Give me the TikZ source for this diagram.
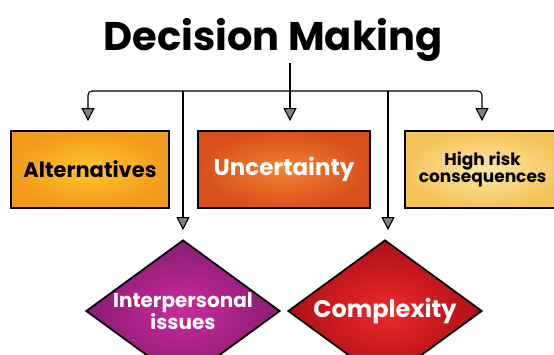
\documentclass[tikz,border=0pt]{standalone}
\usepackage{fontspec}
\setmainfont{Poppins}
\usepackage{tikz}
\usetikzlibrary{shapes.geometric, arrows.meta}

\definecolor{altIn}{HTML}{FFC62A}
\definecolor{altOut}{HTML}{F29A1C}
\definecolor{uncIn}{HTML}{F2822E}
\definecolor{uncOut}{HTML}{D8501C}
\definecolor{riskIn}{HTML}{FCE6A4}
\definecolor{riskOut}{HTML}{F4C45A}
\definecolor{ipIn}{HTML}{C92A9C}
\definecolor{ipOut}{HTML}{8A1C74}
\definecolor{cxIn}{HTML}{EC2A2A}
\definecolor{cxOut}{HTML}{AE0E16}

\tikzset{
    card/.style={draw=black, line width=1.8pt, minimum height=77pt, inner sep=2pt,
        shading=radial, align=center, font=\bfseries\fontsize{21}{21}\selectfont},
    gem/.style={diamond, draw=black, line width=1.8pt, minimum width=194pt, minimum height=142pt,
        aspect=1.37, inner sep=0pt, shading=radial, align=center, text=white,
        font=\bfseries\fontsize{20}{19}\selectfont},
    link/.style={line width=1.1pt, rounded corners=4pt,
        -{Triangle[width=13pt, length=13pt, open, fill=gray]}, shorten >=9pt}
}

\begin{document}
\begin{tikzpicture}[x=1pt, y=-1pt]
    \useasboundingbox (0,0) rectangle (554,354);
    % Title
    \node[font=\bfseries\fontsize{40}{40}\selectfont] (title) at (273,40) {Decision Making};
    % Reference coordinates
    \coordinate (stem) at (290,63);
    \coordinate (hub) at (290,91);
    \coordinate (forkA) at (183,91);
    \coordinate (forkB) at (388,91);
    % Boxes
    \node[card, minimum width=158pt, inner color=altIn, outer color=altOut] (alt) at (90,169.5) {Alternatives};
    \node[card, minimum width=172pt, inner color=uncIn, outer color=uncOut, text=white, font=\bfseries\fontsize{23}{23}\selectfont] (unc) at (284,169.5) {Uncertainty};
    \node[card, minimum width=160pt, inner color=riskIn, outer color=riskOut, font=\bfseries\fontsize{17}{17}\selectfont] (risk) at (485,169.5) {};
    \node[font=\bfseries\fontsize{17}{17}\selectfont, align=center, anchor=east] (risktxt) at (550,169.5) {High risk\\consequences};
    % Diamonds
    \node[gem, inner color=ipIn, outer color=ipOut] (inter) at (183,311) {Interpersonal\\issues};
    \node[gem, inner color=cxIn, outer color=cxOut, font=\bfseries\fontsize{24}{24}\selectfont] (cplx) at (385,311) {Complexity};
    % Lines
    \draw[line width=1.1pt] (stem) -- (hub);
    \draw[link] (hub) -| ([xshift=-2pt]alt.north);
    \draw[link] (hub) -| ([xshift=-3pt]risk.north);
    \draw[link] (hub) -- (hub |- unc.north);
    \draw[link] (forkA) -- (inter.north);
    \draw[link] (forkB) -- (forkB |- cplx.north);
\end{tikzpicture}
\end{document}
